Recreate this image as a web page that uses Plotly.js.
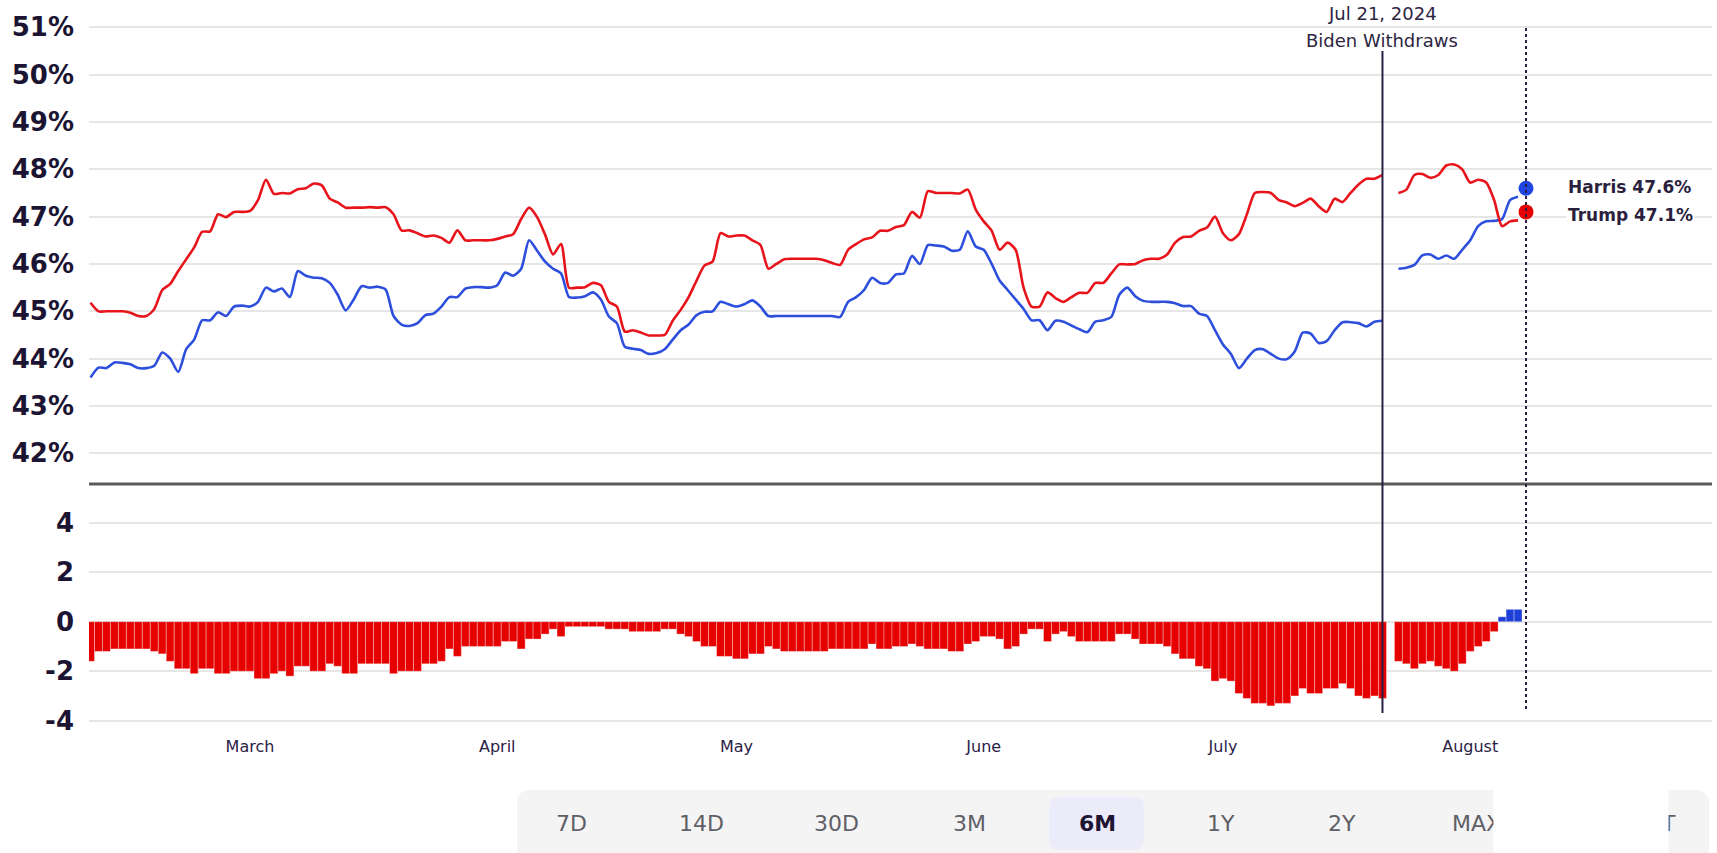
<!DOCTYPE html>
<html><head><meta charset="utf-8">
<script src="https://cdn.plot.ly/plotly-3.0.1.min.js"></script>
<style>html,body{margin:0;padding:0;background:#fff;}#chart{width:1717px;height:853px;}</style>
</head><body><div id="chart"></div>
<script>
// ---------- DATA ----------
const startPre = '2024-02-10';   // first daily value (before Biden withdrew)
const trumpPre = [45.18,45.0,45.0,45.0,45.0,44.97,44.9,44.9,45.05,45.45,
45.58,45.85,46.1,46.35,46.68,46.69,47.05,46.99,47.1,47.1,
47.12,47.35,47.78,47.48,47.5,47.49,47.58,47.6,47.7,47.66,
47.38,47.3,47.19,47.19,47.19,47.2,47.19,47.2,47.05,46.71,
46.71,46.65,46.58,46.6,46.55,46.45,46.71,46.5,46.5,46.5,
46.5,46.53,46.58,46.63,46.95,47.19,46.99,46.62,46.2,46.42,
45.5,45.5,45.51,45.6,45.55,45.2,45.1,44.57,44.6,44.55,
44.49,44.49,44.5,44.8,45.03,45.3,45.65,45.97,46.05,46.65,
46.58,46.6,46.6,46.5,46.4,45.9,46.0,46.1,46.11,46.11,
46.11,46.11,46.08,46.02,45.98,46.3,46.42,46.52,46.56,46.7,
46.7,46.78,46.82,47.1,46.98,47.54,47.5,47.5,47.5,47.49,
47.57,47.15,46.9,46.7,46.3,46.45,46.3,45.5,45.1,45.1,
45.4,45.28,45.2,45.3,45.39,45.39,45.6,45.6,45.8,45.99,
45.99,46.0,46.08,46.11,46.11,46.2,46.45,46.57,46.58,46.7,
46.77,47.0,46.65,46.5,46.63,47.05,47.5,47.52,47.5,47.35,
47.3,47.22,47.29,47.38,47.22,47.1,47.38,47.31,47.5,47.68,
47.8,47.8,47.88];
const harrisPre = [43.6,43.81,43.8,43.92,43.91,43.88,43.8,43.8,43.85,44.13,
44.0,43.72,44.2,44.4,44.81,44.81,44.98,44.9,45.1,45.12,
45.1,45.2,45.5,45.42,45.48,45.3,45.85,45.75,45.71,45.7,
45.6,45.35,45.02,45.25,45.53,45.5,45.52,45.46,44.9,44.72,
44.69,44.75,44.92,44.95,45.1,45.3,45.3,45.48,45.51,45.51,
45.5,45.55,45.82,45.75,45.9,46.5,46.28,46.05,45.9,45.8,
45.3,45.29,45.32,45.4,45.25,44.89,44.75,44.25,44.21,44.18,
44.1,44.12,44.2,44.4,44.6,44.72,44.92,44.99,45.0,45.2,
45.15,45.1,45.15,45.23,45.1,44.9,44.9,44.9,44.9,44.9,
44.9,44.9,44.9,44.9,44.88,45.2,45.3,45.45,45.71,45.6,
45.6,45.78,45.8,46.17,46.0,46.4,46.39,46.37,46.28,46.3,
46.69,46.37,46.3,46.0,45.65,45.45,45.25,45.05,44.81,44.81,
44.6,44.8,44.78,44.7,44.62,44.56,44.78,44.81,44.88,45.35,
45.5,45.32,45.22,45.2,45.2,45.2,45.17,45.11,45.11,44.95,
44.9,44.6,44.3,44.1,43.8,44.0,44.18,44.2,44.1,44.0,
43.99,44.15,44.55,44.53,44.33,44.37,44.6,44.77,44.77,44.75,
44.68,44.78,44.8];
const spreadPre = [-1.6,-1.2,-1.2,-1.1,-1.1,-1.1,-1.1,-1.1,-1.2,-1.3,
-1.6,-1.9,-1.9,-2.1,-1.9,-1.9,-2.1,-2.1,-2.0,-2.0,
-2.0,-2.3,-2.3,-2.1,-2.0,-2.2,-1.8,-1.8,-2.0,-2.0,
-1.7,-1.8,-2.1,-2.1,-1.7,-1.7,-1.7,-1.7,-2.1,-2.0,
-2.0,-2.0,-1.7,-1.7,-1.6,-1.1,-1.4,-1.0,-1.0,-1.0,
-1.0,-1.0,-0.8,-0.8,-1.1,-0.7,-0.7,-0.5,-0.3,-0.6,
-0.2,-0.2,-0.2,-0.2,-0.2,-0.3,-0.3,-0.3,-0.4,-0.4,
-0.4,-0.4,-0.3,-0.3,-0.5,-0.6,-0.8,-1.0,-1.0,-1.4,
-1.4,-1.5,-1.5,-1.3,-1.3,-1.0,-1.1,-1.2,-1.2,-1.2,
-1.2,-1.2,-1.2,-1.1,-1.1,-1.1,-1.1,-1.1,-0.9,-1.1,
-1.1,-1.0,-1.0,-0.9,-1.0,-1.1,-1.1,-1.1,-1.2,-1.2,
-0.9,-0.8,-0.6,-0.6,-0.7,-1.1,-1.0,-0.5,-0.3,-0.3,
-0.8,-0.5,-0.4,-0.6,-0.8,-0.8,-0.8,-0.8,-0.8,-0.5,
-0.5,-0.7,-0.9,-0.9,-0.9,-1.0,-1.3,-1.5,-1.5,-1.8,
-1.9,-2.4,-2.3,-2.4,-2.9,-3.1,-3.3,-3.3,-3.4,-3.3,
-3.3,-3.0,-2.7,-2.9,-2.9,-2.7,-2.7,-2.5,-2.7,-3.0,
-3.1,-3.0,-3.1];
const startPost = '2024-07-23';  // first daily value with Harris as nominee
const trumpPost  = [47.5,47.57,47.88,47.9,47.82,47.88,48.08,48.1,48.0,47.72,47.78,47.72,47.35,46.8,46.9,46.92];
const harrisPost = [45.9,45.92,45.98,46.18,46.2,46.11,46.18,46.11,46.3,46.5,46.8,46.9,46.91,46.95,47.35,47.42];
const spreadPost = [-1.6,-1.7,-1.9,-1.7,-1.6,-1.8,-1.9,-2.0,-1.7,-1.2,-1.0,-0.8,-0.4,0.2,0.5,0.5];
const latestDate = '2024-08-08';
const latestNames = ['Harris', 'Trump'];
const latestValues = [47.6, 47.1];
const eventDate = '2024-07-21';
const eventLabels = ['Jul 21, 2024', 'Biden Withdraws'];
const monthTicks = ['2024-03-01','2024-04-01','2024-05-01','2024-06-01','2024-07-01','2024-08-01'];
const monthLabels = ['March','April','May','June','July','August'];
const pctTicks = [42,43,44,45,46,47,48,49,50,51];
const pctLabels = ['42%','43%','44%','45%','46%','47%','48%','49%','50%','51%'];
const spreadTicks = [-4,-2,0,2,4];
const spreadLabels = ['-4','-2','0','2','4'];
const rangeButtons = ['7D','14D','30D','3M','6M','1Y','2Y','MAX'];
const activeButton = '6M';

// ---------- HELPERS ----------
function dayList(start, n){
  const p = start.split('-').map(Number);
  const t0 = Date.UTC(p[0], p[1]-1, p[2]);
  const out = [];
  for (let i=0;i<n;i++) out.push(new Date(t0 + i*86400000).toISOString().slice(0,10));
  return out;
}
const datesPre = dayList(startPre, trumpPre.length);
const datesPost = dayList(startPost, trumpPost.length);

const RED = '#e8141c', BLUE = '#2d4fdc', BAR_RED = '#e60000', BAR_BLUE = '#1f40d8';
const INK = '#1c1433';
const FONT = 'DejaVu Sans';

// pixel -> paper helpers (margins: l=89, r=5, t=0, b=0)
const L = 89, R = 1712, H = 853;
const px = p => (p - L) / (R - L);
const py = p => 1 - p / H;
function roundRect(x0,y0,x1,y1,r){
  const rx = r/(R-L), ry = r/H;
  const X0=px(x0), X1=px(x1), Y0=py(y0), Y1=py(y1);
  return `M ${X0+rx},${Y0} L ${X1-rx},${Y0} Q ${X1},${Y0} ${X1},${Y0-ry} L ${X1},${Y1+ry} Q ${X1},${Y1} ${X1-rx},${Y1} L ${X0+rx},${Y1} Q ${X0},${Y1} ${X0},${Y1+ry} L ${X0},${Y0-ry} Q ${X0},${Y0} ${X0+rx},${Y0} Z`;
}

// ---------- TRACES ----------
const barX = datesPre.concat(datesPost);
const barY = spreadPre.concat(spreadPost);
const traces = [
  {type:'bar', x:barX, y:barY, xaxis:'x2', yaxis:'y2',
   marker:{color:barY.map(v => v >= 0 ? BAR_BLUE : BAR_RED), line:{width:0.6, color:'rgba(255,255,255,0.55)'}},
   hoverinfo:'skip'},
  {type:'scatter', mode:'lines', x:datesPre, y:harrisPre, line:{color:BLUE, width:2.6, shape:'spline', smoothing:0.7}, hoverinfo:'skip'},
  {type:'scatter', mode:'lines', x:datesPre, y:trumpPre, line:{color:RED, width:2.6, shape:'spline', smoothing:0.7}, hoverinfo:'skip'},
  {type:'scatter', mode:'lines', x:datesPost, y:harrisPost, line:{color:BLUE, width:2.6, shape:'spline', smoothing:0.7}, hoverinfo:'skip'},
  {type:'scatter', mode:'lines', x:datesPost, y:trumpPost, line:{color:RED, width:2.6, shape:'spline', smoothing:0.7}, hoverinfo:'skip'},
  {type:'scatter', mode:'markers', x:[latestDate, latestDate], y:latestValues,
   marker:{color:['#1f45e0','#e60000'], size:15}, hoverinfo:'skip'}
];

// ---------- LAYOUT ----------
const xRange = ['2024-02-09 19:29', '2024-08-31 07:41'];
const shapes = [
  {type:'path', xref:'paper', yref:'paper', path:roundRect(517,790,1709,880,14), fillcolor:'#f4f4f5', line:{width:0}, layer:'below'},
  {type:'path', xref:'paper', yref:'paper', path:roundRect(1049,797,1144,850,10), fillcolor:'#ecebf9', line:{width:0}, layer:'below'},
  {type:'line', xref:'paper', yref:'paper', x0:0, x1:1, y0:py(484), y1:py(484), line:{color:'#5a5a5a', width:3}, layer:'above'},
  {type:'line', xref:'x', yref:'paper', x0:eventDate, x1:eventDate, y0:py(713), y1:py(51), line:{color:'#2a1f45', width:2}, layer:'above'},
  {type:'line', xref:'x', yref:'paper', x0:latestDate, x1:latestDate, y0:py(709), y1:py(27), line:{color:'#2a1f45', width:2, dash:'dot'}, layer:'above'}
];

const annotations = [
  {xref:'x', yref:'paper', x:eventDate, xanchor:'center', y:py(14), yanchor:'middle', text:eventLabels[0], showarrow:false, font:{family:FONT, size:18, color:'#2d2542'}},
  {xref:'x', yref:'paper', x:eventDate, xanchor:'center', y:py(40), yanchor:'middle', text:eventLabels[1], showarrow:false, font:{family:FONT, size:18, color:'#2d2542'}}
];
latestNames.forEach((n,i) => {
  annotations.push({xref:'paper', yref:'paper', x:px(1566), xanchor:'left', y:py(i===0?187:215), yanchor:'middle',
    text:n + ' ' + latestValues[i].toFixed(1) + '%', showarrow:false, bgcolor:'#ffffff', borderpad:1,
    font:{family:FONT, size:17, weight:'bold', color:'#2a1f3d'}});
});
const btnCenters = [571,701,836,969,1097,1221,1342,1476];
rangeButtons.forEach((b,i) => {
  const active = b === activeButton;
  annotations.push({xref:'paper', yref:'paper', x:px(btnCenters[i]), xanchor:'center', y:py(823), yanchor:'middle', text:b, showarrow:false,
    font:{family:FONT, size:22, weight: active ? 'bold' : 'normal', color: active ? '#1e1533' : '#5f5f66'}});
});
annotations.push({xref:'paper', yref:'paper', x:px(1668), xanchor:'center', y:py(823), yanchor:'middle', text:'T', showarrow:false,
  font:{family:FONT, size:22, color:'#5f5f66'}});
annotations.push({xref:'paper', yref:'paper', x:px(1493), xanchor:'left', y:py(786), yanchor:'top', text:' ',
  width:174, height:72, bgcolor:'#ffffff', borderpad:0, showarrow:false});

const layout = {
  width:1717, height:853, margin:{l:L, r:1717-R, t:0, b:0},
  paper_bgcolor:'#ffffff', plot_bgcolor:'rgba(0,0,0,0)',
  showlegend:false, hovermode:false, bargap:0, barmode:'overlay',
  font:{family:FONT, color:INK},
  xaxis:{type:'date', range:xRange, domain:[0,1], anchor:'y', showgrid:false, showticklabels:false,
         zeroline:false, showline:false, ticks:''},
  xaxis2:{type:'date', matches:'x', domain:[0,1], anchor:'y2', showgrid:false, zeroline:false, showline:false,
          tickmode:'array', tickvals:monthTicks, ticktext:monthLabels, ticks:'', ticklabelstandoff:13,
          tickfont:{family:FONT, size:16, color:'#2b2147'}},
  yaxis:{domain:[py(484),1], range:[41.351,51.577], tickmode:'array', tickvals:pctTicks, ticktext:pctLabels,
         showgrid:true, gridcolor:'#e6e6e6', gridwidth:2, zeroline:false, showline:false, ticks:'', ticklabelstandoff:14,
         tickfont:{family:FONT, size:26, weight:'bold', color:INK}},
  yaxis2:{domain:[py(722),py(484)], range:[-4.052,5.564], tickmode:'array', tickvals:spreadTicks, ticktext:spreadLabels,
          showgrid:true, gridcolor:'#e6e6e6', gridwidth:2, zeroline:false, showline:false, ticks:'', ticklabelstandoff:14,
          tickfont:{family:FONT, size:26, weight:'bold', color:INK}},
  shapes:shapes, annotations:annotations
};

Plotly.newPlot('chart', traces, layout, {staticPlot:true, displayModeBar:false});
</script>
</body></html>
